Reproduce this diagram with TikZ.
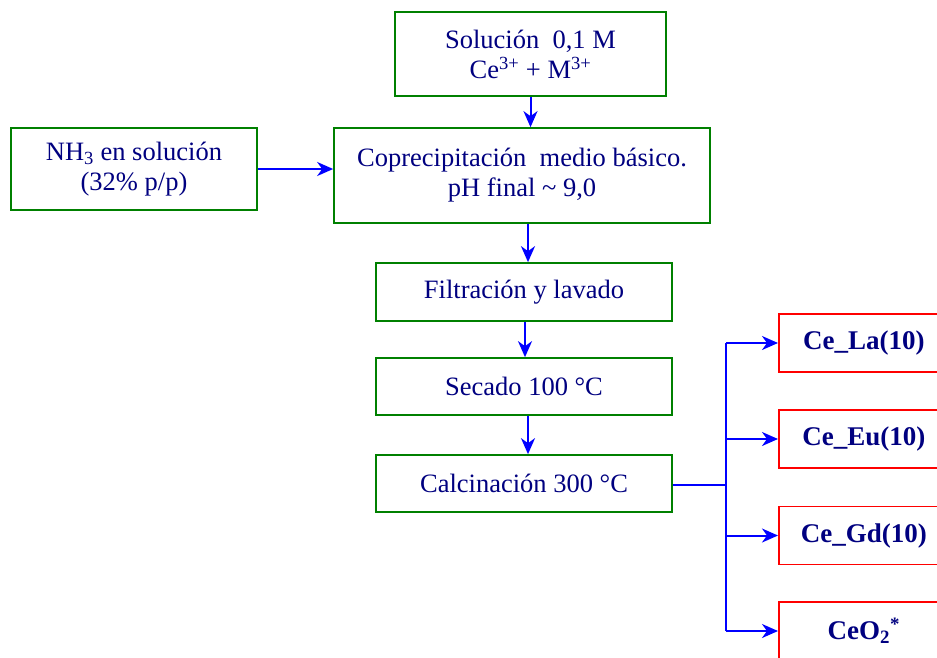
\documentclass[tikz,border=0pt]{standalone}
\usepackage{fontspec}
\setmainfont{Liberation Serif}
\usepackage{xcolor}
\usetikzlibrary{calc,positioning,arrows.meta}
\definecolor{boxgreen}{HTML}{008000}
\definecolor{boxred}{HTML}{FF0000}
\definecolor{txtnavy}{HTML}{000080}
\definecolor{arrblue}{HTML}{0000FF}

\begin{document}
\begin{tikzpicture}[x=1pt, y=-1pt,
  every node/.style={font=\fontsize{26.5}{30}\selectfont, text=txtnavy},
  stepbox/.style={draw=boxgreen, line width=1.7pt, align=center, inner sep=0pt},
  prodbox/.style={draw=boxred, line width=1.7pt, inner sep=0pt, minimum width=170, minimum height=58, font=\fontsize{27}{30}\selectfont\bfseries},
  arr/.style={draw=arrblue, line width=2pt, -{Stealth[length=16pt, width=14pt, inset=5pt]}}]
  \fill[white] (0,0) rectangle (937,657);
  \clip (0,0) rectangle (937,657);
  % main line
  \node[stepbox, minimum width=271, minimum height=84] (sol) at (530.5,54) {Soluci\'on\ \ 0,1 M\\Ce\textsuperscript{3+} + M\textsuperscript{3+}};
  \node[stepbox, minimum width=246, minimum height=82] (nh) at (134,169) {NH\textsubscript{3} en soluci\'on\\(32\% p/p)};
  \node[stepbox, minimum width=376, minimum height=95] (cop) at (522,175.5) {Coprecipitaci\'on\ \ medio b\'asico.\\pH final \textasciitilde{} 9,0};
  \node[stepbox, minimum width=296, minimum height=58] (fil) at (524,292) {Filtraci\'on y lavado};
  \node[stepbox, minimum width=296, minimum height=57] (sec) at (524,386.5) {Secado 100 \textdegree C};
  \node[stepbox, minimum width=296, minimum height=57] (cal) at (524,483.5) {Calcinaci\'on 300 \textdegree C};
  % products, cut by the right edge
  \node[prodbox, anchor=west] (la) at (778,343) {Ce\_La(10)};
  \node[prodbox, anchor=west] (eu) at (778,439) {Ce\_Eu(10)};
  \node[prodbox, anchor=west] (gd) at (778,535.5) {Ce\_Gd(10)};
  \node[prodbox, anchor=west] (ce) at (778,631) {CeO\textsubscript{2}\textsuperscript{*}};
  \coordinate (split) at (726,485);
  % arrows
  \draw[arr] (sol.south) -- (sol.south |- cop.north);
  \draw[arr] (nh.east) -- (nh.east -| cop.west);
  \draw[arr] ([xshift=6pt]cop.south) -- ([xshift=6pt]cop.south |- fil.north);
  \draw[arr] ([xshift=1pt]fil.south) -- ([xshift=1pt]fil.south |- sec.north);
  \draw[arr] ([xshift=4pt]sec.south) -- ([xshift=4pt]sec.south |- cal.north);
  \draw[draw=arrblue, line width=2pt] (cal.east |- split) -- (split);
  \draw[draw=arrblue, line width=2pt] (split |- la.west) -- (split |- ce.west);
  \foreach \p in {la,eu,gd,ce}
    \draw[arr] (split |- \p.west) -- (\p.west);
\end{tikzpicture}
\end{document}
